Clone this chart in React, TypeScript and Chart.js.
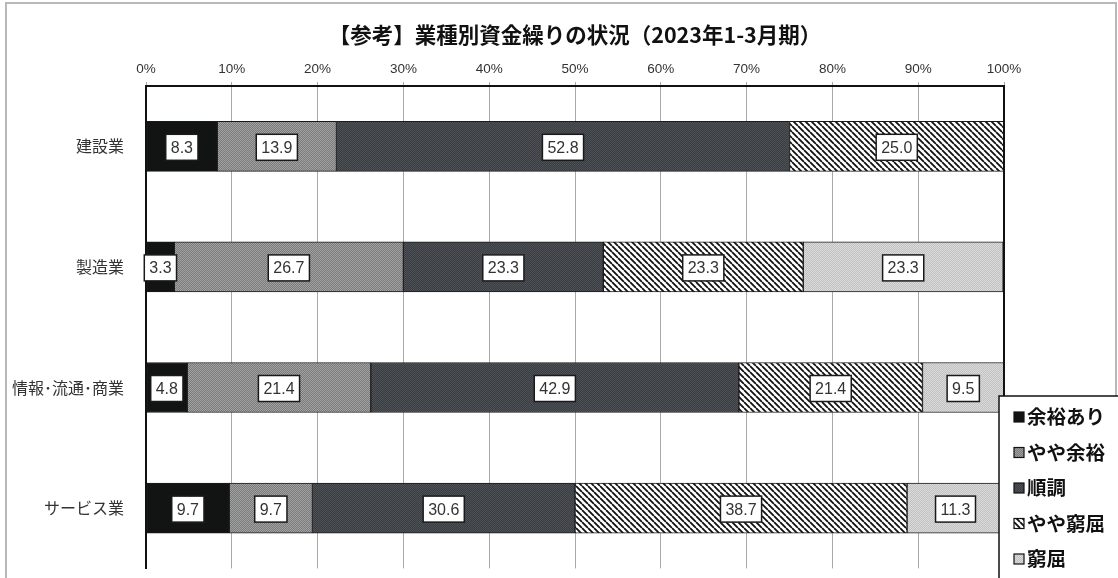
import React, { useEffect, useRef } from "react";
import { Chart, registerables } from "chart.js";

Chart.register(...registerables);

const titleText = "【参考】業種別資金繰りの状況（2023年1-3月期）";
const categories = ["建設業", "製造業", "情報･流通･商業", "サービス業"];
const seriesNames = ["余裕あり", "やや余裕", "順調", "やや窮屈", "窮屈"];
const yoyuAri = [8.3, 3.3, 4.8, 9.7];
const yayaYoyu = [13.9, 26.7, 21.4, 9.7];
const junchou = [52.8, 23.3, 42.9, 30.6];
const yayaKyukutsu = [25.0, 23.3, 21.4, 38.7];
const kyukutsu = [0, 23.3, 9.5, 11.3];
const tickValues = [0, 10, 20, 30, 40, 50, 60, 70, 80, 90, 100];

const W = 1118;
const H = 592;

function makePattern(w: number, h: number, draw: (c: CanvasRenderingContext2D) => void): CanvasPattern | string {
  const cv = document.createElement("canvas");
  cv.width = w;
  cv.height = h;
  const c = cv.getContext("2d");
  if (!c) return "#888";
  draw(c);
  const p = c.createPattern(cv, "repeat");
  return p || "#888";
}

function checker(a: string, b: string) {
  return makePattern(2, 2, (c) => {
    c.fillStyle = a;
    c.fillRect(0, 0, 2, 2);
    c.fillStyle = b;
    c.fillRect(0, 0, 1, 1);
    c.fillRect(1, 1, 1, 1);
  });
}

function hatch() {
  return makePattern(6, 6, (c) => {
    c.fillStyle = "#ffffff";
    c.fillRect(0, 0, 6, 6);
    c.strokeStyle = "#111111";
    c.lineWidth = 1.8;
    c.beginPath();
    for (const k of [-6, 0, 6]) {
      c.moveTo(k, 0);
      c.lineTo(k + 6, 6);
    }
    c.stroke();
  });
}

const decorPlugin = {
  id: "decor",
  beforeDraw(chart: any) {
    const { ctx } = chart;
    ctx.save();
    ctx.fillStyle = "#ffffff";
    ctx.fillRect(0, 0, chart.width, chart.height);
    ctx.strokeStyle = "#b8b8b8";
    ctx.lineWidth = 2;
    ctx.strokeRect(6, 3, 1110, chart.height + 20);
    ctx.restore();
  },
  afterDatasetsDraw(chart: any) {
    const { ctx, chartArea } = chart;
    ctx.save();
    ctx.strokeStyle = "#111111";
    ctx.lineWidth = 2;
    ctx.beginPath();
    ctx.moveTo(chartArea.left, chartArea.bottom);
    ctx.lineTo(chartArea.left, chartArea.top);
    ctx.lineTo(chartArea.right, chartArea.top);
    ctx.lineTo(chartArea.right, chartArea.bottom);
    ctx.stroke();
    ctx.font = "16px 'Liberation Sans', Arial, sans-serif";
    ctx.textAlign = "center";
    ctx.textBaseline = "middle";
    chart.data.datasets.forEach((ds: any, i: number) => {
      const meta = chart.getDatasetMeta(i);
      meta.data.forEach((bar: any, j: number) => {
        const v = ds.data[j];
        if (!v) return;
        const txt = v.toFixed(1);
        const tw = ctx.measureText(txt).width;
        const bw = tw + 10;
        const bh = 26;
        const cx = (bar.x + bar.base) / 2;
        const cy = bar.y + 1;
        ctx.fillStyle = "#ffffff";
        ctx.fillRect(cx - bw / 2, cy - bh / 2, bw, bh);
        ctx.strokeStyle = "#1a1a1a";
        ctx.lineWidth = 1.5;
        ctx.strokeRect(cx - bw / 2, cy - bh / 2, bw, bh);
        ctx.fillStyle = "#333333";
        ctx.fillText(txt, cx, cy + 1);
      });
    });
    ctx.restore();
  },
  afterDraw(chart: any) {
    const { ctx, chartArea } = chart;
    ctx.save();
    ctx.font = "bold 21.5px 'Noto Sans CJK JP', sans-serif";
    ctx.fillStyle = "#111111";
    ctx.textAlign = "center";
    ctx.textBaseline = "middle";
    ctx.fillText(titleText, (chartArea.left + chartArea.right) / 2, 35);
    const lx = 999;
    const ly = 396;
    ctx.fillStyle = "#ffffff";
    ctx.fillRect(lx, ly, 200, 300);
    ctx.strokeStyle = "#111111";
    ctx.lineWidth = 1.5;
    ctx.strokeRect(lx, ly, 200, 300);
    ctx.font = "bold 19.5px 'Noto Sans CJK JP', sans-serif";
    ctx.textAlign = "left";
    chart.data.datasets.forEach((ds: any, i: number) => {
      const y = 417 + i * 35.5;
      ctx.fillStyle = ds.backgroundColor;
      ctx.fillRect(1014, y - 5, 10, 10);
      ctx.strokeStyle = "#111111";
      ctx.lineWidth = 1.2;
      ctx.strokeRect(1014, y - 5, 10, 10);
      ctx.fillStyle = "#111111";
      ctx.fillText(ds.label, 1027, y);
    });
    ctx.restore();
  },
};

export default function App() {
  const ref = useRef<HTMLCanvasElement | null>(null);
  useEffect(() => {
    if (!ref.current) return;
    const fills = [
      "#111412",
      checker("#7a7a7a", "#a2a2a2"),
      checker("#3a3e43", "#4d5156"),
      hatch(),
      checker("#c2c2c2", "#dadada"),
    ];
    const values = [yoyuAri, yayaYoyu, junchou, yayaKyukutsu, kyukutsu];
    const chart = new Chart(ref.current, {
      type: "bar",
      data: {
        labels: categories,
        datasets: values.map((arr, i) => ({
          label: seriesNames[i],
          data: arr.map((v) => (v === 0 ? null : v)),
          backgroundColor: fills[i] as any,
          borderColor: "#1a1a1a",
          borderWidth: 1,
          borderSkipped: false,
          barThickness: 50,
        })),
      },
      options: {
        indexAxis: "y",
        animation: false,
        responsive: false,
        devicePixelRatio: 1,
        layout: { padding: { top: 56, right: 114, left: 0, bottom: 6 } },
        plugins: { legend: { display: false }, title: { display: false }, tooltip: { enabled: false } },
        scales: {
          x: {
            position: "top",
            stacked: true,
            min: 0,
            max: 100,
            afterBuildTicks: (s: any) => {
              s.ticks = tickValues.map((v) => ({ value: v }));
            },
            afterFit: (s: any) => {
              s.height = 30;
            },
            ticks: {
              callback: (v: any) => v + "%",
              font: { family: "'Liberation Sans', Arial, sans-serif", size: 13.5 },
              color: "#333333",
              padding: 5,
              maxRotation: 0,
            },
            grid: { color: "#a8a8a8", lineWidth: 1, tickLength: 4 },
            border: { display: true, color: "#111111", width: 2 },
          },
          y: {
            stacked: true,
            afterFit: (s: any) => {
              s.width = 146;
            },
            ticks: {
              font: { family: "'Noto Sans CJK JP', sans-serif", size: 16 },
              color: "#333333",
              padding: 14,
            },
            grid: { display: false },
            border: { display: true, color: "#111111", width: 2 },
          },
        },
      },
      plugins: [decorPlugin],
    });
    return () => chart.destroy();
  }, []);
  return (
    <div style={{ position: "fixed", left: 0, top: 0, width: W, height: 578, overflow: "hidden", background: "#fff" }}>
      <canvas ref={ref} width={W} height={H} style={{ display: "block", width: W, height: H }} />
    </div>
  );
}
